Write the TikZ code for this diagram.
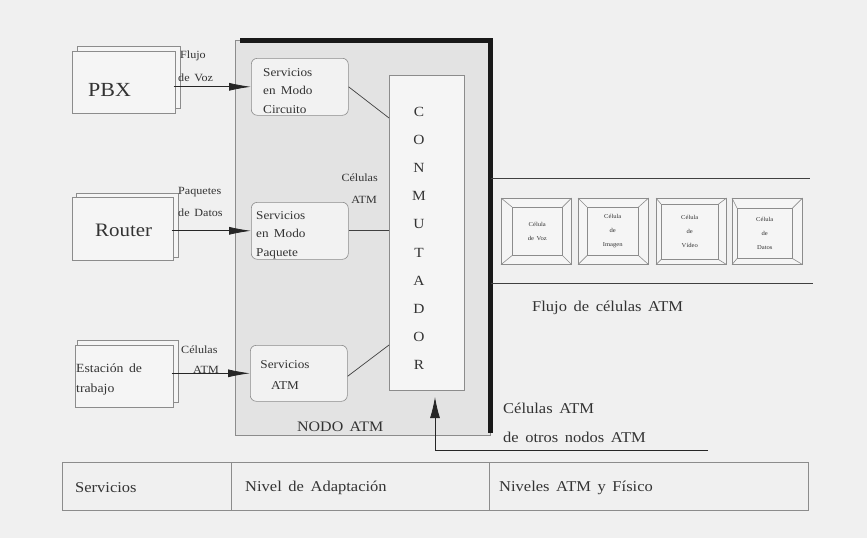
\documentclass[tikz,border=0pt]{standalone}
\usepackage{fontspec}
\setmainfont{Liberation Serif}[FakeStretch=1.1,WordSpace=1.6]
\usetikzlibrary{arrows.meta,calc}
\begin{document}
\begin{tikzpicture}[x=1pt,y=-1pt,
  every node/.style={text=black!80},
  frame/.style={draw=black!45, line width=0.6pt, inner sep=0, anchor=north west},
  txt/.style={inner sep=0, anchor=west},
  fs/.style={font=\fontsize{#1}{#1}\selectfont},
  arr/.style={draw=black!85, line width=0.8pt, -{Latex[length=22pt,width=8pt]}},
  conn/.style={draw=black!75, line width=0.7pt},
  thinline/.style={draw=black!45, line width=0.6pt},
  svcbox/.style={frame, fill=black!5, rounded corners=6pt},
]
\fill[black!6] (0,0) rectangle (867,538);
\useasboundingbox (0,0) rectangle (867,538);

% NODO ATM
\node[frame, fill=black!11, minimum width=255pt, minimum height=395pt] (nodo) at (235,40) {};
\draw[line width=5pt, black!90] ([xshift=5pt]nodo.north west) -- (nodo.north east) -- ([yshift=3pt]nodo.south east);
\node[txt, fs=14.5] (nodot) at (297,427) {NODO ATM};

% left devices
\node[frame, fill=black!4, minimum width=103pt, minimum height=62pt] (pbxb) at (77,46) {};
\node[frame, fill=black!4, minimum width=103pt, minimum height=62pt] (pbx) at (72,51) {};
\node[txt, fs=20] (pbxt) at (88,90) {PBX};

\node[frame, fill=black!4, minimum width=102pt, minimum height=64pt] (routerb) at (76,193) {};
\node[frame, fill=black!4, minimum width=101pt, minimum height=63pt] (router) at (72,197) {};
\node[txt, fs=19] (routert) at (95,230) {Router};

\node[frame, fill=black!4, minimum width=101pt, minimum height=62pt] (estb) at (77,340) {};
\node[frame, fill=black!4, minimum width=98pt, minimum height=62pt] (est) at (75,345) {};
\node[txt, align=left, font=\fontsize{12.5}{20}\selectfont] (estt) at (76,379) {Estación de\\trabajo};

% labels on arrows
\node[txt, fs=11] (l1a) at (180,56) {Flujo};
\node[txt, fs=11] (l1b) at (178,78) {de Voz};
\node[txt, fs=11] (l2a) at (178,192) {Paquetes};
\node[txt, fs=11] (l2b) at (178,213) {de Datos};
\node[txt, fs=11] (l3a) at (181,350) {Células};
\node[txt, fs=11] (l3b) at (193,370) {ATM};

% service boxes
\node[svcbox, minimum width=97pt, minimum height=57pt] (sc) at (251,58) {};
\node[txt, align=left, font=\fontsize{12}{18.5}\selectfont] (sct) at (263,91) {Servicios\\en Modo\\Circuito};
\node[svcbox, minimum width=97pt, minimum height=57pt] (sp) at (251,202) {};
\node[txt, align=left, font=\fontsize{12}{18.5}\selectfont] (spt) at (256,235) {Servicios\\en Modo\\Paquete};
\node[svcbox, minimum width=97pt, minimum height=56pt] (sa) at (250,345) {};
\node[inner sep=0, align=center, font=\fontsize{12}{21}\selectfont] (sat) at (285,375.5) {Servicios\\ATM};

% arrows into services
\draw[arr] ([xshift=-2pt]pbx.east |- sc.west) -- (sc.west);
\draw[arr] ([xshift=-2pt]router.east |- sp.west) -- (sp.west);
\draw[arr] ([xshift=-2pt]est.east |- sa.west) -- (sa.west);

% conmutador
\node[frame, fill=black!4, minimum width=75pt, minimum height=315pt] (conm) at (389,75) {};
\foreach \l [count=\i from 0] in {C,O,N,M,U,T,A,D,O,R}
  \node[fs=14, inner sep=0] (L\i) at (419,{112+28.1*\i}) {\l};

\draw[conn] (sc.east) -- ($(conm.north west)+(0,43)$);
\draw[conn] (sp.east) -- (sp.east -| conm.west);
\draw[conn] ($(sa.east)+(0,3)$) -- ($(conm.north west)+(0,270)$);

\node[inner sep=0, anchor=east, fs=11] (cela) at (378,178) {Células};
\node[inner sep=0, anchor=east, fs=11] (celb) at (377,200) {ATM};

% cell flow
\coordinate (f1) at (810,178);
\coordinate (f2) at (813,283);
\draw[conn] (nodo.east |- f1) -- (f1);
\draw[conn] (nodo.east |- f2) -- (f2);

\foreach \i/\x/\ix/\iw/\iy/\ih/\t in {
  1/501/512/50/207/48/{Célula\\de Voz},
  2/578/587/51/207/48/{Célula\\de\\Imagen},
  3/656/661/57/204/55/{Célula\\de\\Vídeo},
  4/732/737/55/208/50/{Célula\\de\\Datos}}
{
  \node[frame, fill=black!4, minimum width=70pt, minimum height=66pt] (co\i) at (\x,198) {};
  \node[frame, minimum width=\iw, minimum height=\ih, align=center, font=\fontsize{6}{14}\selectfont] (ci\i) at (\ix,\iy) {\t};
  \draw[thinline] (co\i.north west) -- (ci\i.north west);
  \draw[thinline] (co\i.north east) -- (ci\i.north east);
  \draw[thinline] (co\i.south west) -- (ci\i.south west);
  \draw[thinline] (co\i.south east) -- (ci\i.south east);
}
\node[txt, fs=15] (flujo) at (532,308) {Flujo de células ATM};

% other nodes arrow
\coordinate (oe) at (708,450);
\coordinate (tip) at (435,397);
\draw[arr, -{Latex[length=21pt,width=10pt]}] (oe) -| (tip);
\node[txt, fs=15] (ot1) at (503,408) {Células ATM};
\node[txt, fs=15] (ot2) at (503,437) {de otros nodos ATM};

% bottom table
\node[frame, minimum width=746pt, minimum height=48pt] (tab) at (62,462) {};
\coordinate (d1) at (231,462);
\coordinate (d2) at (489,462);
\draw[thinline] (d1) -- (d1 |- tab.south);
\draw[thinline] (d2) -- (d2 |- tab.south);
\node[txt, fs=15] (t1) at (75,488) {Servicios};
\node[txt, fs=15] (t2) at (245,488) {Nivel de Adaptación};
\node[txt, fs=15] (t3) at (499,488) {Niveles ATM y Físico};
\end{tikzpicture}
\end{document}
